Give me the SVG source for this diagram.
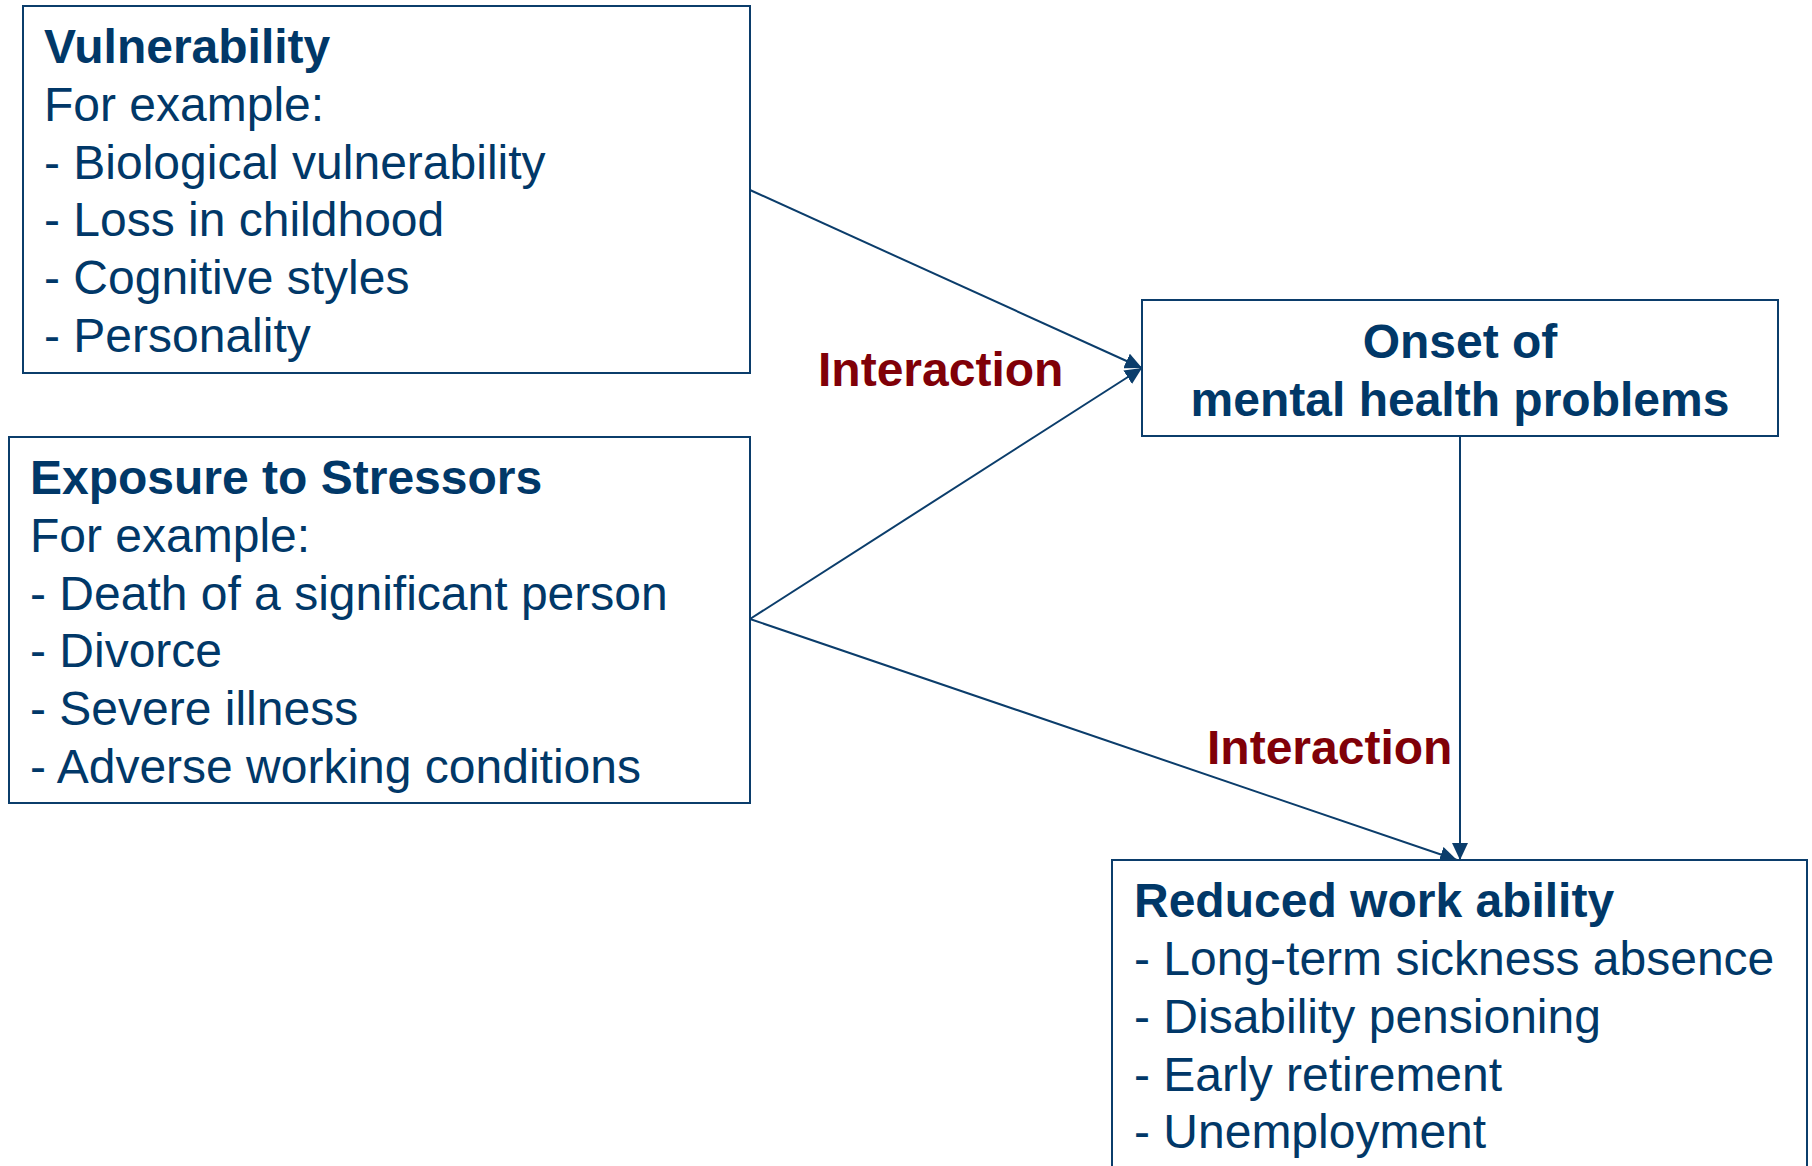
<svg xmlns="http://www.w3.org/2000/svg" width="1812" height="1166" viewBox="0 0 1812 1166">
  <style>
    .box { fill: #ffffff; stroke: #0b3d6b; stroke-width: 2; }
    .t { font-family: "Liberation Sans", Arial, sans-serif; font-size: 48px; fill: #013868; }
    .b { font-weight: bold; }
    .red { font-family: "Liberation Sans", Arial, sans-serif; font-size: 48px; font-weight: bold; fill: #800008; }
    .conn { stroke: #0b3d6b; stroke-width: 2; fill: none; marker-end: url(#arr); }
  </style>
  <defs>
    <marker id="arr" markerUnits="userSpaceOnUse" markerWidth="18" markerHeight="16" refX="17" refY="8" orient="auto">
      <path d="M0,0 L17,8 L0,16 z" fill="#0b3d6b"/>
    </marker>
  </defs>
  <rect width="1812" height="1166" fill="#ffffff"/>

  <g id="connectors">
    <line class="conn" x1="750" y1="190" x2="1142" y2="368"/>
    <line class="conn" x1="750" y1="619" x2="1142" y2="368"/>
    <line class="conn" x1="750" y1="619" x2="1457" y2="860"/>
    <line class="conn" x1="1460" y1="436" x2="1460" y2="860"/>
  </g>

  <g id="vulnerability">
    <rect class="box" x="23" y="6" width="727" height="367"/>
    <text class="t b" x="44" y="63">Vulnerability</text>
    <text class="t" x="44" y="121">For example:</text>
    <text class="t" x="44" y="179">- Biological vulnerability</text>
    <text class="t" x="44" y="236">- Loss in childhood</text>
    <text class="t" x="44" y="294">- Cognitive styles</text>
    <text class="t" x="44" y="352">- Personality</text>
  </g>

  <g id="stressors">
    <rect class="box" x="9" y="437" width="741" height="366"/>
    <text class="t b" x="30" y="494">Exposure to Stressors</text>
    <text class="t" x="30" y="552">For example:</text>
    <text class="t" x="30" y="610">- Death of a significant person</text>
    <text class="t" x="30" y="667">- Divorce</text>
    <text class="t" x="30" y="725">- Severe illness</text>
    <text class="t" x="30" y="783">- Adverse working conditions</text>
  </g>

  <g id="onset">
    <rect class="box" x="1142" y="300" width="636" height="136"/>
    <text class="t b" x="1460" y="358" text-anchor="middle">Onset of</text>
    <text class="t b" x="1460" y="416" text-anchor="middle">mental health problems</text>
  </g>

  <g id="reduced">
    <rect class="box" x="1112" y="860" width="695" height="330"/>
    <text class="t b" x="1134" y="917">Reduced work ability</text>
    <text class="t" x="1134" y="975">- Long-term sickness absence</text>
    <text class="t" x="1134" y="1033">- Disability pensioning</text>
    <text class="t" x="1134" y="1091">- Early retirement</text>
    <text class="t" x="1134" y="1148">- Unemployment</text>
  </g>

  <g id="labels">
    <text class="red" x="818" y="386">Interaction</text>
    <text class="red" x="1207" y="764">Interaction</text>
  </g>
</svg>
